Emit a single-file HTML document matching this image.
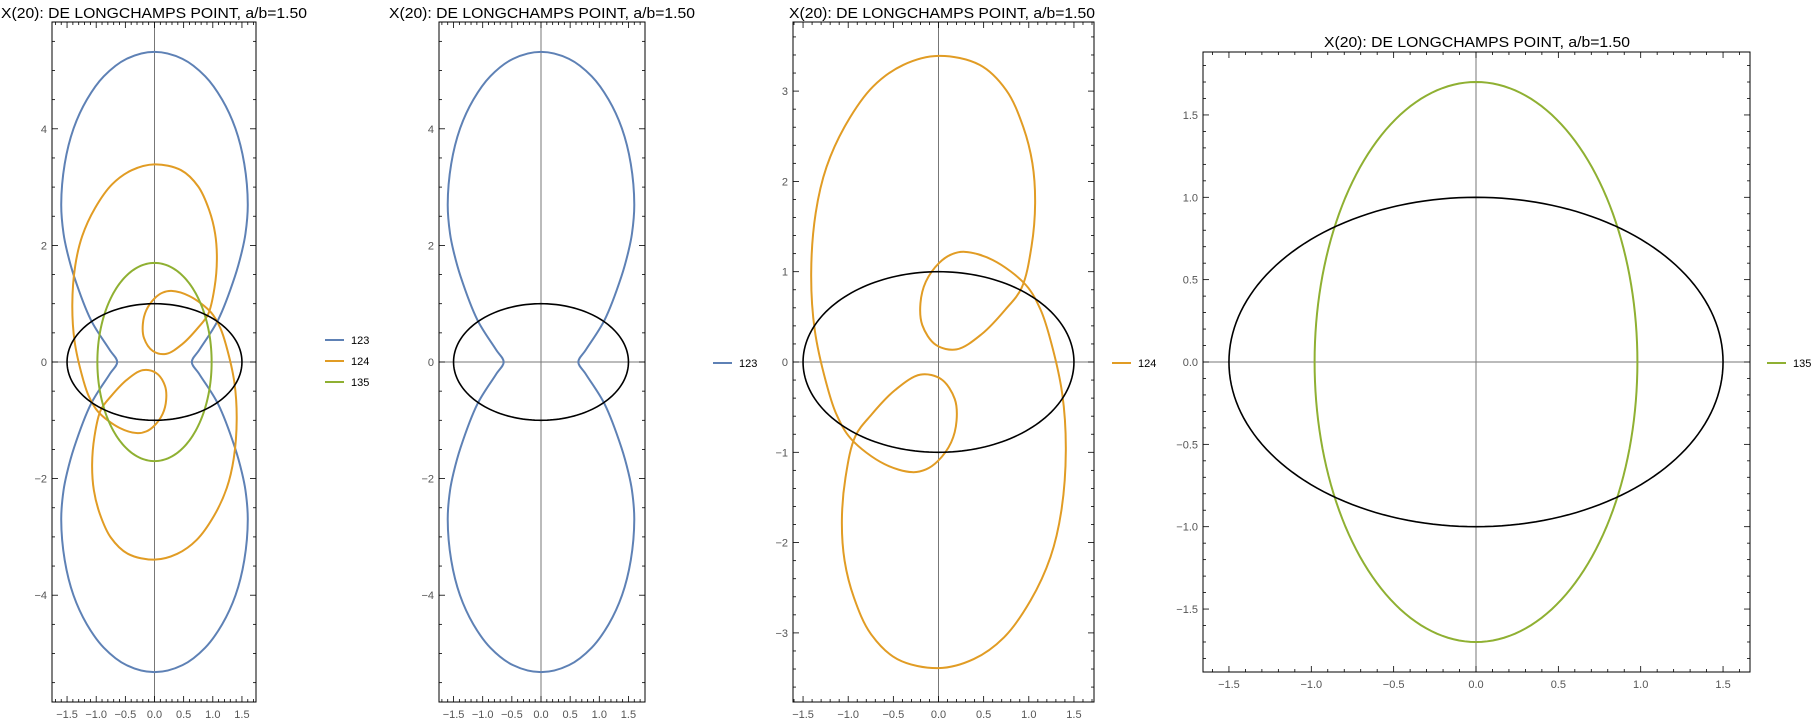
<!DOCTYPE html>
<html><head><meta charset="utf-8"><style>
html,body{margin:0;padding:0;background:#fff;}
svg{display:block;font-family:"Liberation Sans",sans-serif;}
</style></head><body>
<svg id="chart" width="1812" height="722" viewBox="0 0 1812 722" xmlns="http://www.w3.org/2000/svg"></svg>
<script>
// ---- data (data units) ----
const tickLabelsX = ["-1.5","-1.0","-0.5","0.0","0.5","1.0","1.5"];
const tickValuesX = [-1.5,-1.0,-0.5,0,0.5,1.0,1.5];
const tickLabelsYBig = ["-4","-2","0","2","4"];
const tickValuesYBig = [-4,-2,0,2,4];
const tickLabelsY3 = ["-3","-2","-1","0","1","2","3"];
const tickValuesY3 = [-3,-2,-1,0,1,2,3];
const tickLabelsY4 = ["-1.5","-1.0","-0.5","0.0","0.5","1.0","1.5"];
const tickValuesY4 = [-1.5,-1.0,-0.5,0,0.5,1.0,1.5];
const seriesNames = ["123","124","135"];
const baseEllipse = [1.5, 1.0];          // black ellipse semi-axes a, b
const curve135Radii = [0.98, 1.70];       // green
// curve 123 (blue): upper-right quarter, mirrored across both axes
const curve123QX = [0.64,0.77,1.09,1.38,1.50,1.56,1.60,1.54,1.39,1.16,0.87,0.48,0];
const curve123QY = [0,0.21,0.72,1.47,1.90,2.20,2.70,3.40,4.00,4.50,4.90,5.20,5.32];
// curve 124 (orange): first half; second half is point reflection
const curve124X = [0,0.456,0.75,0.936,1.04,1.07,1.03,0.92,0.74,0.48,0.2,-0.03,-0.18,-0.2,-0.14,0.01,0.14,0.29,0.6,0.97,1.13,1.23,1.37,1.41,1.36,1.24,1.02,0.725,0.39];
const curve124Y = [3.39,3.29,3.01,2.61,2.2,1.76,1.28,0.82,0.58,0.31,0.14,0.19,0.41,0.65,0.89,1.1,1.19,1.22,1.13,0.85,0.58,0.28,-0.35,-0.98,-1.65,-2.16,-2.64,-3.05,-3.29];

const COLORS = {"123":"#5e81b5","124":"#e19c24","135":"#8fb032"};
const NS="http://www.w3.org/2000/svg";
const svg=document.getElementById('chart');
function mk(tag,attrs,parent){const e=document.createElementNS(NS,tag);for(const k in attrs)e.setAttribute(k,attrs[k]);(parent||svg).appendChild(e);return e;}

function ptsEllipse(r){const p=[];for(let i=0;i<=180;i++){const t=i/180*2*Math.PI;p.push([r[0]*Math.cos(t),r[1]*Math.sin(t)]);}return p;}
function pts123(){const q=curve123QX.map((x,i)=>[x,curve123QY[i]]);const p=[];
 for(let i=0;i<q.length;i++)p.push([q[i][0],q[i][1]]);
 for(let i=q.length-2;i>=0;i--)p.push([-q[i][0],q[i][1]]);
 for(let i=1;i<q.length;i++)p.push([-q[i][0],-q[i][1]]);
 for(let i=q.length-2;i>=1;i--)p.push([q[i][0],-q[i][1]]);
 return p;}
function pts124(){const p=[];for(let i=0;i<curve124X.length;i++)p.push([curve124X[i],curve124Y[i]]);
 for(let i=0;i<curve124X.length;i++)p.push([-curve124X[i],-curve124Y[i]]);return p;}
function crPath(P){ // centripetal catmull-rom closed
 const n=P.length;let d="M"+P[0][0].toFixed(2)+","+P[0][1].toFixed(2);
 const dist=(a,b)=>Math.pow(Math.hypot(a[0]-b[0],a[1]-b[1])||1e-6,0.5);
 for(let i=0;i<n;i++){const p0=P[(i-1+n)%n],p1=P[i],p2=P[(i+1)%n],p3=P[(i+2)%n];
  const d1=dist(p0,p1),d2=dist(p1,p2),d3=dist(p2,p3);
  const c1=[],c2=[];
  for(let k=0;k<2;k++){
   c1[k]=(d1*d1*p2[k]-d2*d2*p0[k]+(2*d1*d1+3*d1*d2+d2*d2)*p1[k])/(3*d1*(d1+d2));
   c2[k]=(d3*d3*p1[k]-d2*d2*p3[k]+(2*d3*d3+3*d3*d2+d2*d2)*p2[k])/(3*d3*(d3+d2));
  }
  d+="C"+c1[0].toFixed(2)+","+c1[1].toFixed(2)+" "+c2[0].toFixed(2)+","+c2[1].toFixed(2)+" "+p2[0].toFixed(2)+","+p2[1].toFixed(2);}
 return d+"Z";}
function linePath(P){return "M"+P.map(p=>p[0].toFixed(2)+","+p[1].toFixed(2)).join("L")+"Z";}

const panels=[
 {id:1,L:52,R:256,T:22,B:702,x0:154.5,y0:362,s:58.3,yv:tickValuesYBig,yl:tickLabelsYBig,yMinor:0.5,series:["123","124","135"],titleX:154,titleY:18,legX:325,legY:[340,361,382]},
 {id:2,L:439,R:645,T:22,B:702,x0:541,y0:362,s:58.3,yv:tickValuesYBig,yl:tickLabelsYBig,yMinor:0.5,series:["123"],titleX:542,titleY:18,legX:713,legY:[363]},
 {id:3,L:793,R:1094,T:22,B:702,x0:938.5,y0:362,s:90.3,yv:tickValuesY3,yl:tickLabelsY3,yMinor:0.2,series:["124"],titleX:942,titleY:18,legX:1112,legY:[363]},
 {id:4,L:1203,R:1750,T:52,B:672,x0:1476,y0:362,s:164.7,yv:tickValuesY4,yl:tickLabelsY4,yMinor:0.1,series:["135"],titleX:1477,titleY:47,legX:1767,legY:[363]}
];

panels.forEach(pn=>{
 const g=mk('g',{});
 
 
 const sx=v=>pn.x0+v*pn.s, sy=v=>pn.y0-v*pn.s;
 const title=mk('text',{x:pn.titleX,y:pn.titleY,'text-anchor':'middle','font-size':15,fill:'#000',textLength:306,lengthAdjust:'spacingAndGlyphs'},g);
 title.textContent="X(20): DE LONGCHAMPS POINT, a/b=1.50";
 
 
 const clipId='clip'+pn.id;
 const cp=mk('clipPath',{id:clipId},g);mk('rect',{x:pn.L,y:pn.T,width:pn.R-pn.L,height:pn.B-pn.T},cp);
 const plot=mk('g',{'clip-path':'url(#'+clipId+')'},g);
 
 
 const ax1=mk('line',{x1:pn.L,x2:pn.R,y1:sy(0),y2:sy(0),stroke:'#777','stroke-width':1},plot);
 
 
 const ax2=mk('line',{x1:sx(0),x2:sx(0),y1:pn.T,y2:pn.B,stroke:'#777','stroke-width':1},plot);
 
 
 const tr=P=>P.map(p=>[sx(p[0]),sy(p[1])]);
 pn.series.forEach(name=>{
  let P; if(name==="123")P=pts123(); else if(name==="124")P=pts124(); else P=ptsEllipse(curve135Radii);
  const d=name==="135"?linePath(tr(P)):crPath(tr(P));
  const c=mk('path',{d:d,fill:'none',stroke:COLORS[name],'stroke-width':2},plot);
  
  
 });
 const el=mk('path',{d:linePath(tr(ptsEllipse(baseEllipse))),fill:'none',stroke:'#000','stroke-width':1.6},plot);
 
 
 const fr=mk('rect',{x:pn.L,y:pn.T,width:pn.R-pn.L,height:pn.B-pn.T,fill:'none',stroke:'#000','stroke-width':1},g);
 
 
 const xmin=(pn.L-pn.x0)/pn.s,xmax=(pn.R-pn.x0)/pn.s;
 for(let k=Math.ceil(xmin*10);k<=Math.floor(xmax*10);k++){const v=k/10,maj=(k%5===0),len=maj?6:3;
  mk('line',{x1:sx(v),x2:sx(v),y1:pn.B,y2:pn.B-len,stroke:'#000','stroke-width':0.8},g);
  mk('line',{x1:sx(v),x2:sx(v),y1:pn.T,y2:pn.T+len,stroke:'#000','stroke-width':0.8},g);}
 tickValuesX.forEach((v,i)=>{const t=mk('text',{x:sx(v),y:pn.B+16,'text-anchor':'middle','font-size':11,fill:'#555'},g);
  t.textContent=tickLabelsX[i].replace('-','\u2212');
  
  });
 const ymin=(pn.y0-pn.B)/pn.s,ymax=(pn.y0-pn.T)/pn.s,st=pn.yMinor;
 const majStep=pn.yv[1]-pn.yv[0];
 for(let k=Math.ceil(ymin/st-1e-6);k<=Math.floor(ymax/st+1e-6);k++){const v=k*st;const maj=Math.abs(v/majStep-Math.round(v/majStep))<1e-6,len=maj?6:3;
  mk('line',{x1:pn.L,x2:pn.L+len,y1:sy(v),y2:sy(v),stroke:'#000','stroke-width':0.8},g);
  mk('line',{x1:pn.R,x2:pn.R-len,y1:sy(v),y2:sy(v),stroke:'#000','stroke-width':0.8},g);}
 pn.yv.forEach((v,i)=>{const t=mk('text',{x:pn.L-5,y:sy(v)+4,'text-anchor':'end','font-size':11,fill:'#555'},g);
  t.textContent=pn.yl[i].replace('-','\u2212');
  
  });
 pn.series.forEach((name,i)=>{const lg=mk('g',{},g);
  
  
  mk('line',{x1:pn.legX,x2:pn.legX+19,y1:pn.legY[i],y2:pn.legY[i],stroke:COLORS[name],'stroke-width':2},lg);
  const t=mk('text',{x:pn.legX+26,y:pn.legY[i]+4,'font-size':11,fill:'#000'},lg);t.textContent=name;});
});
</script>
</body></html>
